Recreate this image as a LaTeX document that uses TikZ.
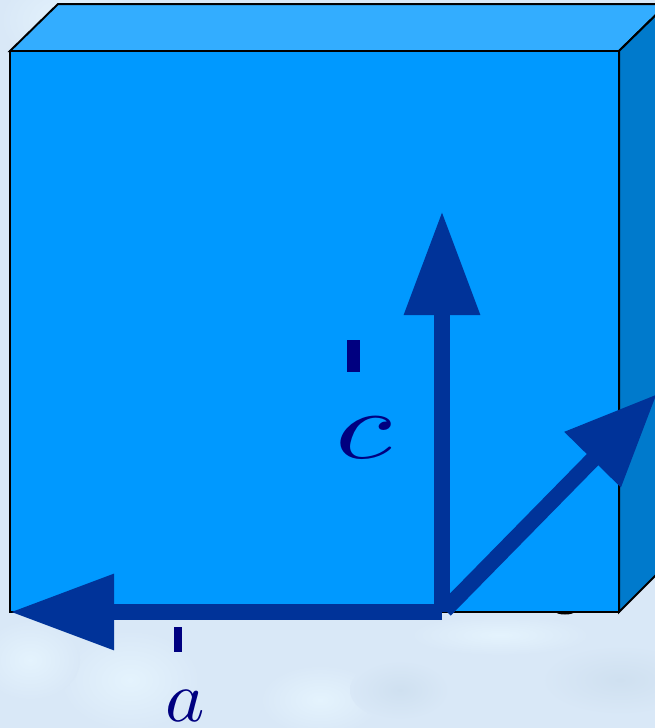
\documentclass[tikz,border=0pt]{standalone}
\usetikzlibrary{arrows.meta}
\definecolor{paleback}{HTML}{D9E8F7}
\definecolor{palespot}{HTML}{E4F3FD}
\definecolor{greyspot}{HTML}{CFE0F0}
\definecolor{frontface}{HTML}{0099FF}
\definecolor{topface}{HTML}{33ADFF}
\definecolor{sideface}{HTML}{007ACC}
\definecolor{axisblue}{HTML}{003399}
\definecolor{labelblue}{HTML}{000080}
\begin{document}
\begin{tikzpicture}[x=0.75pt, y=-0.75pt,
  face/.style={draw=black, line width=1.5pt, line join=miter, fill=#1},
  axis/.style={axisblue, line width=12pt,
               -{Triangle[length=78pt, width=54pt]}},
  shortaxis/.style={axisblue, line width=12pt,
               -{Triangle[length=69pt, width=56pt]}},
  tickmark/.style={fill=labelblue, inner sep=0pt, minimum width=#1},
  letter/.style={labelblue, inner sep=0pt}
]
  \clip (0,0) rectangle (655,728);
  \fill[paleback] (0,0) rectangle (655,728);
  \foreach \cx/\cy/\rx/\ry/\spot in {70/20/70/45/palespot, 130/680/70/50/palespot,
      320/700/60/35/palespot, 500/635/90/20/palespot, 400/690/50/30/greyspot,
      620/680/80/35/greyspot, 30/660/50/40/palespot}
    \shade[inner color=\spot, outer color=paleback]
      (\cx,\cy) ellipse [x radius=\rx, y radius=\ry];
  \coordinate (ftl) at (10,51);
  \coordinate (ftr) at (619,51);
  \coordinate (fbr) at (619,612);
  \coordinate (fbl) at (10,612);
  \coordinate (btl) at (58,4);
  \coordinate (btr) at (667,4);
  \coordinate (bbr) at (667,564);
  \draw[face=topface] (ftl) -- (btl) -- (btr) -- (ftr) -- cycle;
  \draw[face=sideface] (ftr) -- (btr) -- (bbr) -- (fbr) -- cycle;
  \fill[black] (565,612) ellipse [x radius=9, y radius=2.5];
  \draw[face=frontface] (ftl) -- (ftr) -- (fbr) -- (fbl) -- cycle;
  \coordinate (origin) at (442,612);
  \coordinate (cend) at (442,211);
  \coordinate (aend) at (10,612);
  \coordinate (bstart) at (445,610);
  \coordinate (bend) at (657,394);
  \draw[axis] (origin) -- (cend);
  \draw[axis] (origin) -- (aend);
  \draw[shortaxis] (bstart) -- (bend);
  \node[tickmark=9.75pt, minimum height=24pt] (ctick) at (353.5,356) {};
  \node[tickmark=6pt, minimum height=18.75pt] (atick) at (178,639.5) {};
  \node[letter, xscale=9.8, yscale=7.2] (clabel) at (364,438) {$c$};
  \node[letter, xscale=5.6, yscale=5.4] (alabel) at (185,706) {$a$};
\end{tikzpicture}
\end{document}
